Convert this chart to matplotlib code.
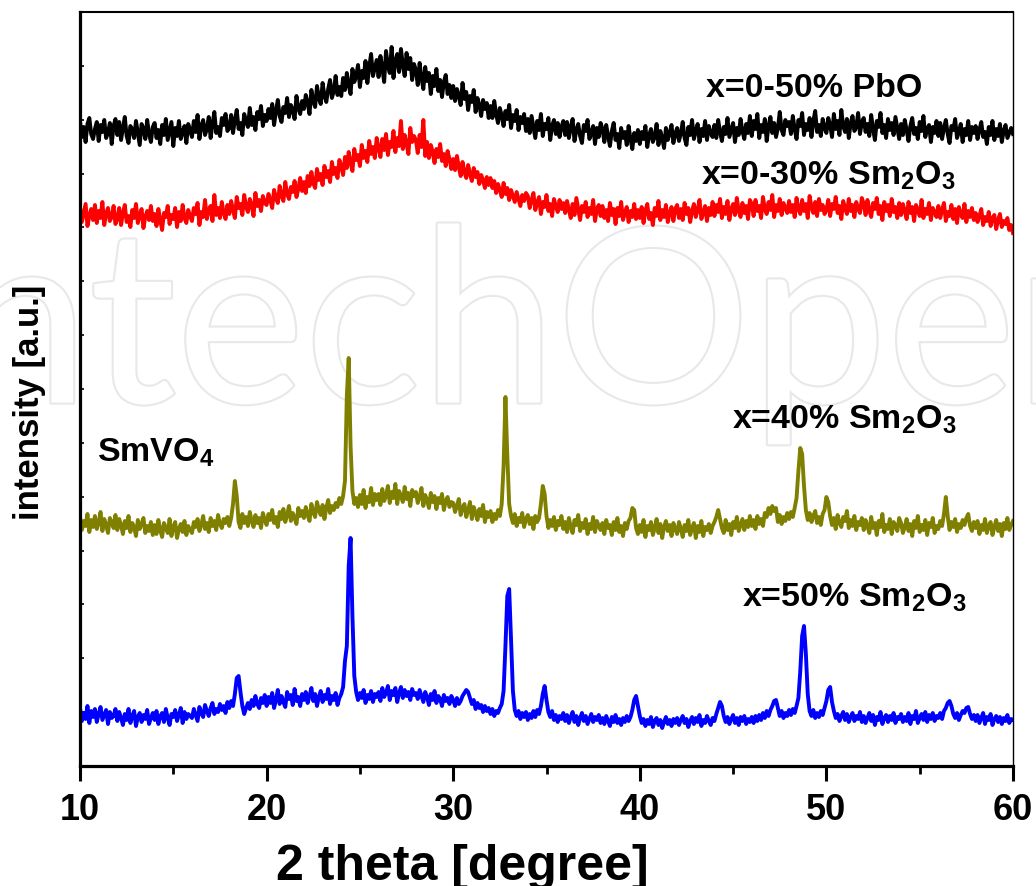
import numpy as np
import matplotlib.pyplot as plt
import matplotlib.patheffects as pe

plt.rcParams['font.family'] = ['Liberation Sans', 'DejaVu Sans']
plt.rcParams['font.weight'] = 'bold'
plt.rcParams['mathtext.fontset'] = 'custom'
plt.rcParams['mathtext.rm'] = 'Liberation Sans:bold'
plt.rcParams['mathtext.bf'] = 'Liberation Sans:bold'
plt.rcParams['mathtext.default'] = 'rm'

# 2 theta grid, 0.1 degree steps from 10 to 60
two_theta = np.linspace(10, 60, 501)

# intensities (a.u.), one row = 2 degrees
pbo_0_50 = [
    645, 629, 639, 624, 642, 648, 632, 627, 637, 644, 625, 641, 634, 646, 628, 633, 643, 622, 640, 647,
    631, 644, 626, 638, 649, 630, 623, 640, 636, 628, 645, 633, 621, 642, 637, 627, 646, 632, 624, 639,
    643, 628, 636, 622, 641, 631, 647, 626, 635, 644, 620, 638, 630, 645, 627, 634, 640, 623, 642, 636,
    629, 645, 634, 651, 627, 640, 646, 631, 637, 649, 628, 642, 654, 633, 639, 630, 648, 641, 652, 635,
    638, 651, 633, 646, 656, 637, 643, 631, 652, 645, 639, 658, 641, 649, 636, 654, 647, 660, 640, 651,
    645, 657, 648, 662, 641, 655, 666, 650, 644, 659, 653, 668, 649, 661, 656, 647, 670, 658, 652, 665,
    657, 671, 663, 652, 676, 665, 659, 680, 668, 662, 683, 670, 664, 677, 686, 668, 675, 690, 671, 679,
    670, 688, 676, 693, 681, 672, 697, 684, 690, 701, 679, 695, 688, 705, 683, 699, 712, 690, 698, 706,
    689, 710, 698, 684, 715, 700, 693, 719, 688, 705, 712, 694, 717, 701, 690, 713, 697, 708, 686, 702,
    696, 681, 703, 688, 677, 699, 685, 693, 672, 690, 680, 697, 675, 686, 669, 684, 691, 672, 681, 668,
    680, 665, 677, 670, 661, 683, 667, 674, 656, 670, 664, 676, 654, 668, 661, 650, 666, 657, 663, 648,
    660, 648, 665, 652, 643, 658, 650, 640, 655, 647, 661, 638, 651, 645, 656, 636, 649, 643, 652, 635,
    647, 633, 650, 639, 628, 645, 636, 652, 630, 642, 637, 648, 626, 640, 646, 632, 643, 629, 639, 645,
    631, 644, 628, 639, 647, 625, 636, 642, 630, 623, 641, 635, 646, 627, 633, 640, 622, 638, 629, 643,
    637, 624, 641, 630, 620, 635, 643, 626, 632, 618, 638, 628, 634, 621, 640, 627, 617, 633, 625, 636,
    622, 634, 627, 640, 619, 631, 637, 624, 629, 642, 621, 635, 628, 618, 638, 626, 633, 641, 623, 632,
    638, 625, 633, 644, 628, 621, 639, 631, 646, 627, 635, 642, 624, 637, 630, 645, 626, 640, 633, 629,
    641, 628, 646, 634, 625, 639, 632, 648, 629, 636, 643, 624, 638, 631, 647, 635, 627, 642, 633, 650,
    630, 645, 637, 652, 628, 641, 634, 647, 625, 640, 649, 633, 643, 629, 638, 654, 636, 631, 646, 640,
    644, 632, 650, 637, 627, 646, 640, 653, 631, 642, 636, 648, 629, 645, 655, 634, 641, 630, 647, 638,
    633, 648, 641, 629, 652, 637, 645, 631, 656, 640, 634, 647, 628, 643, 650, 635, 639, 653, 632, 644,
    648, 634, 642, 630, 651, 637, 626, 645, 639, 653, 633, 641, 628, 647, 636, 643, 631, 649, 638, 627,
    642, 631, 646, 636, 625, 640, 648, 632, 638, 627, 644, 635, 650, 629, 637, 641, 624, 639, 633, 645,
    630, 643, 627, 638, 646, 632, 623, 640, 636, 647, 628, 634, 642, 624, 637, 631, 645, 626, 639, 633,
    640, 627, 636, 644, 629, 634, 622, 639, 631, 645, 626, 637, 630, 642, 624, 635, 641, 628, 633, 638,
    632]

sm2o3_0_30 = [
    559, 544, 553, 562, 540, 550, 557, 546, 561, 543, 555, 548, 564, 541, 552, 558, 545, 549, 560, 542,
    547, 558, 541, 553, 561, 544, 550, 539, 556, 548, 562, 543, 551, 557, 538, 549, 555, 546, 560, 545,
    552, 540, 557, 546, 536, 553, 549, 560, 542, 551, 547, 558, 539, 554, 545, 561, 548, 543, 556, 550,
    545, 558, 552, 563, 541, 554, 549, 566, 547, 556, 560, 545, 571, 551, 558, 548, 564, 553, 547, 561,
    552, 565, 556, 548, 569, 558, 562, 551, 571, 559, 554, 567, 561, 550, 573, 560, 566, 555, 570, 563,
    561, 572, 566, 558, 576, 568, 563, 580, 570, 565, 584, 572, 567, 579, 574, 585, 569, 577, 588, 575,
    584, 573, 590, 580, 594, 583, 578, 597, 586, 592, 581, 600, 589, 595, 584, 604, 592, 598, 588, 606,
    600, 591, 609, 598, 614, 603, 595, 617, 606, 611, 600, 621, 608, 615, 604, 625, 612, 619, 608, 628,
    618, 609, 627, 616, 632, 611, 624, 619, 635, 614, 628, 620, 645, 617, 631, 622, 612, 638, 624, 630,
    626, 613, 631, 619, 646, 610, 624, 608, 621, 614, 603, 617, 609, 622, 605, 612, 600, 615, 607, 597,
    607, 596, 610, 599, 590, 604, 594, 588, 601, 592, 585, 598, 589, 594, 582, 591, 586, 578, 589, 581,
    588, 578, 585, 573, 582, 576, 569, 583, 572, 578, 566, 576, 570, 564, 574, 567, 560, 571, 565, 573,
    570, 558, 566, 573, 556, 563, 569, 552, 564, 559, 571, 555, 562, 550, 567, 560, 554, 566, 557, 563,
    553, 565, 556, 548, 562, 551, 568, 557, 546, 560, 554, 564, 549, 558, 552, 566, 545, 557, 561, 550,
    560, 548, 556, 545, 563, 551, 557, 542, 558, 550, 564, 546, 553, 559, 544, 555, 549, 562, 547, 556,
    548, 559, 543, 555, 562, 547, 553, 541, 558, 550, 565, 546, 556, 549, 561, 544, 553, 559, 545, 557,
    561, 548, 557, 546, 563, 552, 558, 544, 555, 562, 549, 556, 566, 547, 553, 560, 545, 558, 551, 564,
    550, 561, 554, 567, 548, 559, 552, 565, 546, 557, 562, 551, 568, 555, 549, 563, 553, 560, 547, 566,
    562, 550, 566, 555, 560, 548, 569, 557, 552, 564, 556, 571, 549, 561, 555, 567, 551, 563, 558, 553,
    565, 554, 561, 549, 568, 557, 552, 566, 555, 562, 548, 570, 559, 553, 564, 550, 567, 556, 561, 552,
    556, 566, 550, 562, 557, 569, 553, 560, 547, 565, 558, 552, 567, 555, 561, 549, 564, 557, 553, 568,
    562, 551, 566, 556, 549, 563, 557, 568, 552, 560, 546, 564, 555, 561, 550, 567, 554, 559, 548, 563,
    551, 562, 555, 547, 564, 553, 559, 545, 561, 556, 550, 566, 548, 557, 552, 563, 546, 558, 554, 549,
    560, 548, 556, 563, 545, 554, 550, 561, 547, 557, 543, 559, 552, 548, 562, 544, 555, 549, 558, 546,
    553, 544, 550, 557, 541, 549, 545, 554, 540, 548, 551, 537, 546, 552, 539, 545, 542, 548, 536, 541,
    533]

sm2o3_40 = [
    249, 236, 245, 240, 252, 234, 246, 239, 250, 237, 243, 254, 235, 247, 241, 233, 248, 244, 238, 251,
    236, 247, 241, 232, 245, 238, 250, 234, 243, 239, 230, 246, 237, 242, 248, 233, 240, 235, 244, 231,
    241, 232, 246, 236, 229, 243, 238, 233, 247, 230, 239, 244, 228, 237, 242, 234, 245, 231, 240, 236,
    233, 244, 239, 247, 235, 241, 250, 237, 243, 234, 248, 240, 245, 236, 251, 242, 238, 247, 243, 249,
    240, 248, 262, 285, 270, 244, 238, 252, 243, 249, 240, 254, 245, 239, 251, 243, 248, 238, 253, 246,
    241, 252, 246, 256, 243, 249, 239, 254, 247, 257, 244, 251, 260, 245, 253, 248, 242, 258, 250, 255,
    248, 259, 251, 245, 262, 254, 249, 264, 256, 251, 261, 247, 258, 266, 253, 260, 256, 263, 259, 268,
    262, 270, 285, 370, 408, 320, 275, 262, 268, 259, 271, 262, 276, 258, 269, 264, 278, 261, 272, 266,
    272, 261, 277, 265, 270, 280, 263, 274, 268, 282, 262, 275, 270, 264, 279, 267, 273, 260, 276, 270,
    274, 263, 269, 278, 260, 271, 266, 258, 273, 264, 270, 257, 268, 263, 272, 256, 265, 269, 259, 264,
    263, 254, 260, 267, 251, 258, 262, 249, 256, 264, 247, 259, 253, 246, 257, 250, 261, 244, 254, 249,
    255, 244, 252, 247, 256, 250, 262, 300, 369, 310, 262, 250, 243, 252, 240, 248, 244, 253, 239, 247,
    251, 242, 248, 237, 250, 244, 248, 262, 280, 272, 250, 238, 246, 240, 249, 236, 245, 241, 250, 237,
    244, 234, 248, 239, 233, 246, 241, 251, 235, 243, 238, 247, 232, 242, 237, 249, 234, 245, 240, 236,
    243, 232, 246, 238, 241, 231, 244, 236, 248, 234, 240, 230, 243, 237, 245, 248, 258, 256, 238, 232,
    241, 234, 246, 229, 240, 236, 244, 231, 238, 247, 233, 242, 228, 239, 245, 235, 241, 230, 243, 237,
    232, 244, 237, 229, 241, 235, 246, 231, 238, 243, 228, 240, 234, 245, 230, 239, 236, 242, 233, 240,
    244, 249, 256, 247, 238, 233, 246, 236, 242, 231, 244, 238, 249, 235, 241, 247, 236, 245, 239, 250,
    240, 246, 237, 250, 242, 247, 240, 253, 249, 258, 252, 260, 255, 258, 244, 251, 242, 249, 245, 253,
    247, 254, 249, 258, 268, 295, 318, 312, 280, 256, 246, 253, 244, 250, 255, 243, 249, 241, 252, 256,
    269, 264, 250, 241, 248, 237, 251, 243, 239, 249, 245, 255, 238, 246, 240, 250, 236, 244, 241, 248,
    236, 246, 240, 233, 249, 238, 243, 231, 245, 239, 252, 234, 241, 237, 247, 232, 244, 240, 235, 248,
    243, 233, 239, 247, 235, 242, 230, 245, 238, 250, 234, 241, 236, 246, 231, 243, 239, 248, 233, 240,
    237, 245, 240, 252, 269, 250, 236, 244, 239, 247, 234, 242, 238, 246, 241, 248, 252, 240, 235, 244,
    238, 245, 232, 241, 236, 247, 233, 240, 244, 231, 239, 246, 235, 242, 230, 243, 237, 248, 236, 241,
    245]

sm2o3_50 = [
    58, 45, 53, 47, 60, 43, 55, 49, 57, 44, 52, 59, 46, 51, 56, 42, 54, 48, 50, 57,
    45, 54, 48, 41, 52, 46, 57, 43, 50, 55, 40, 49, 53, 44, 51, 47, 56, 42, 48, 53,
    46, 55, 42, 50, 53, 44, 57, 48, 41, 52, 49, 56, 45, 51, 58, 43, 54, 47, 52, 50,
    48, 57, 51, 45, 59, 53, 49, 61, 55, 50, 58, 63, 52, 57, 54, 62, 56, 60, 53, 64,
    58, 65, 60, 72, 88, 90, 74, 60, 52, 58, 63, 57, 66, 60, 70, 62, 58, 68, 63, 71,
    60, 69, 63, 73, 58, 66, 76, 62, 70, 64, 59, 74, 67, 71, 61, 77, 65, 69, 60, 72,
    66, 74, 63, 70, 78, 65, 72, 60, 69, 75, 64, 71, 67, 77, 62, 70, 66, 73, 61, 68,
    72, 79, 105, 120, 200, 228, 150, 90, 74, 66, 73, 68, 76, 63, 71, 67, 75, 64, 72, 69,
    74, 65, 78, 69, 73, 80, 66, 75, 71, 78, 64, 73, 79, 68, 76, 70, 74, 66, 77, 71,
    73, 67, 76, 70, 64, 74, 69, 61, 72, 66, 75, 63, 70, 67, 60, 71, 65, 68, 62, 70,
    66, 60, 68, 62, 65, 70, 73, 76, 74, 68, 62, 66, 57, 63, 58, 61, 54, 60, 55, 58,
    52, 57, 50, 55, 53, 58, 62, 75, 120, 170, 177, 125, 75, 56, 50, 55, 47, 53, 49, 54,
    46, 52, 48, 55, 49, 56, 52, 60, 72, 80, 66, 54, 49, 55, 46, 51, 44, 50, 47, 53,
    45, 51, 43, 49, 54, 44, 50, 41, 48, 53, 45, 50, 42, 47, 52, 44, 49, 46, 51, 43,
    48, 42, 50, 45, 40, 49, 44, 51, 43, 47, 41, 48, 44, 50, 45, 49, 56, 66, 70, 60,
    50, 43, 47, 40, 46, 42, 49, 39, 45, 48, 41, 46, 38, 44, 49, 42, 46, 40, 47, 43,
    48, 41, 46, 50, 43, 47, 39, 45, 49, 42, 48, 44, 51, 40, 46, 43, 50, 45, 41, 48,
    45, 52, 58, 64, 60, 50, 44, 49, 42, 47, 51, 43, 48, 41, 49, 45, 50, 42, 47, 44,
    49, 43, 50, 45, 51, 46, 53, 48, 55, 50, 56, 60, 65, 66, 58, 50, 55, 48, 53, 50,
    56, 51, 57, 53, 60, 68, 95, 130, 140, 112, 72, 55, 50, 56, 48, 53, 49, 55, 51, 58,
    65, 76, 79, 64, 55, 48, 52, 45, 50, 54, 46, 52, 44, 49, 53, 45, 50, 47, 54, 44,
    50, 43, 48, 53, 45, 51, 41, 49, 46, 54, 42, 48, 51, 44, 50, 46, 53, 43, 49, 47,
    52, 44, 49, 45, 53, 42, 50, 47, 55, 43, 48, 52, 46, 54, 44, 51, 47, 53, 45, 50,
    48, 53, 47, 55, 58, 63, 65, 60, 52, 48, 53, 46, 51, 55, 53, 58, 59, 52, 47, 51,
    45, 51, 43, 48, 53, 42, 49, 46, 52, 41, 47, 50, 44, 49, 42, 48, 45, 51, 43, 47,
    46]

series = [pbo_0_50, sm2o3_0_30, sm2o3_40, sm2o3_50]
colors = ['black', '#ff0000', '#808000', '#0000ff']
for s in series:
    assert len(s) == len(two_theta), len(s)

fig = plt.figure(figsize=(10.36, 8.87), dpi=100)
ax = fig.add_axes([80/1036, 1-767/887, 933/1036, 754/887])
ax.set_zorder(2)
ax.patch.set_alpha(0)

# faint publisher watermark, drawn behind the axes
fig.text(0.50, 0.545, 'IntechOpen', ha='center', va='baseline', fontsize=175,
         family='Lato', fontweight='normal', color='white', zorder=0,
         path_effects=[pe.withStroke(linewidth=3, foreground='#e8e8e8')])

for y, c in zip(series, colors):
    ax.plot(two_theta, y, color=c, lw=2.8)

ax.set_xlim(10, 60)
ax.set_ylim(0, 754)
ax.set_xticks([10, 20, 30, 40, 50, 60])
ax.set_xticks([15, 25, 35, 45, 55], minor=True)
ax.set_yticks(np.linspace(0, 754, 15))
ax.set_yticklabels([])
ax.tick_params(axis='x', which='major', direction='out', length=11, width=2.2,
               labelsize=26, pad=8)
ax.tick_params(axis='x', which='minor', direction='out', length=6, width=2.0)
ax.tick_params(axis='y', direction='in', length=3, width=1.2)
for lab in ax.get_xticklabels():
    lab.set_fontweight('bold')

ax.spines['left'].set_linewidth(2.3)
ax.spines['bottom'].set_linewidth(2.3)
ax.spines['top'].set_linewidth(1.5)
ax.spines['right'].set_linewidth(1.0)

fig.text(462/1036, 7/887, '2 theta [degree]', ha='center', va='baseline',
         fontsize=36, fontweight='bold')
fig.text(30/1036, 1-402/887, 'intensity [a.u.]', ha='center', va='center',
         rotation=90, fontsize=25, fontweight='bold')

kw = dict(fontsize=24.5, fontweight='bold', ha='left', va='baseline')
ax.text(43.57, 670, 'x=0-50% PbO', **kw)
ax.text(43.30, 582, r'x=0-30% Sm$_2$O$_3$', **kw)
ax.text(10.91, 305, r'SmVO$_4$', **kw)
ax.text(44.96, 338, r'x=40% Sm$_2$O$_3$', **kw)
ax.text(45.49, 160, r'x=50% Sm$_2$O$_3$', **kw)

fig.savefig('out.png', dpi=100)
